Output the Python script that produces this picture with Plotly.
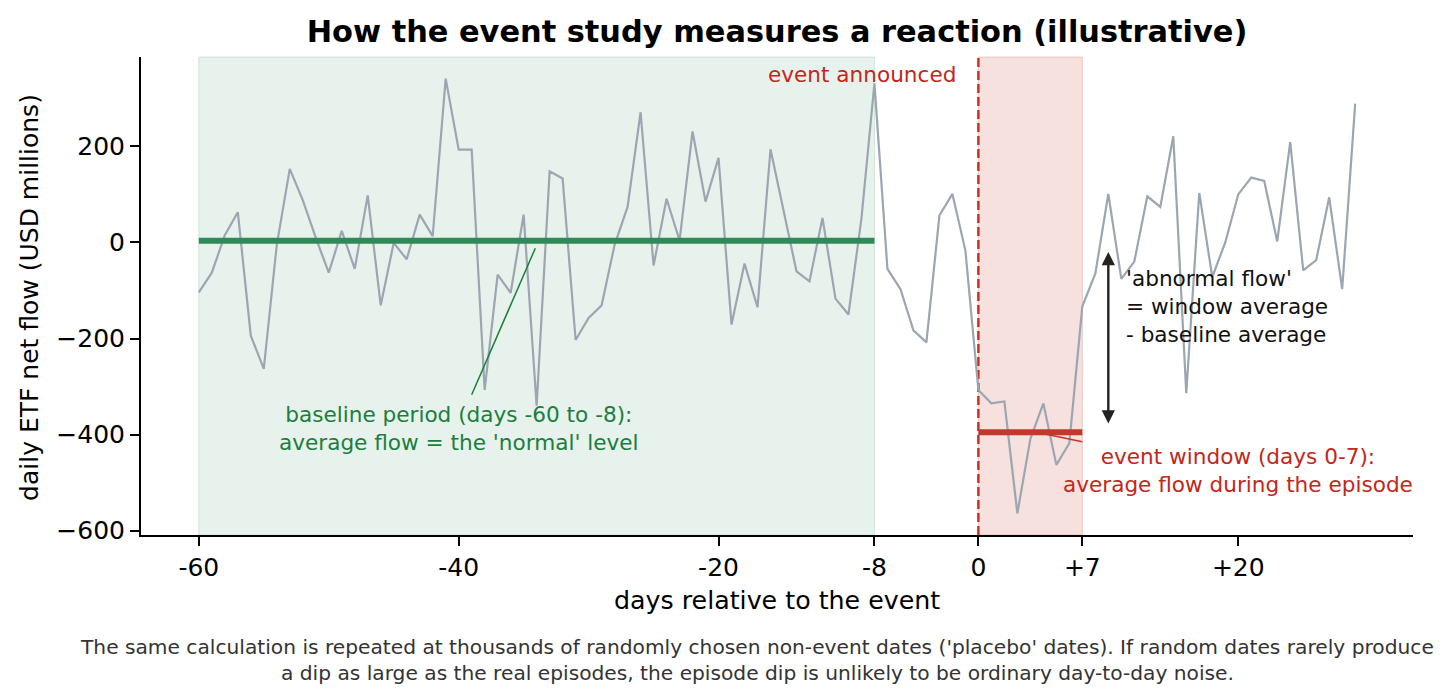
import plotly.graph_objects as go

# illustrative daily flows (USD millions)
days = list(range(-60, 30))
flows = [
    -104, -63, 15, 63, -194, -263, -5, 153, 88, 10,
    -63, 24, -55, 98, -131, -1, -35, 58, 13, 341,
    193, 193, -307, -67, -105, 58, -340, 148, 133, -203,
    -157, -131, -5, 74, 271, -48, 91, 4, 231, 85,
    176, -171, -44, -135, 194, 65, -60, -81, 51, -117,
    -150, 50, 331, -55, -97, -183, -208, 56, 101, -17,
    -307, -335, -331, -564, -409, -335, -463, -418, -133, -65,
    101, -76, -40, 96, 74, 221, -314, 103, -72, 0,
    100, 135, 128, 2, 209, -58, -37, 94, -97, 289,
]

baseline = (-60, -8)
window = (0, 7)          # days averaged; the shaded span runs to the end of day 7
tick_vals = [-60, -40, -20, -8, 0, 8, 20]
tick_text = ["-60", "-40", "-20", "-8", "0", "+7", "+20"]
y_ticks = [-600, -400, -200, 0, 200]
y_text = ["\u2212600", "\u2212400", "\u2212200", "0", "200"]
footnote = [
    "The same calculation is repeated at thousands of randomly chosen non-event dates "
    "('placebo' dates). If random dates rarely produce",
    "a dip as large as the real episodes, the episode dip is unlikely to be ordinary "
    "day-to-day noise.",
]


def period_mean(lo, hi):
    vals = [v for d, v in zip(days, flows) if lo <= d <= hi]
    return sum(vals) / len(vals)


base_avg = period_mean(*baseline)
win_avg = period_mean(*window)
win_end = window[1] + 1

FONT = "DejaVu Sans"
GREEN = "#2e8b57"
GREEN_TXT = "#1a7f3c"
RED = "#c0392b"
RED_TXT = "#c4261a"

fig = go.Figure()
fig.add_trace(go.Scatter(x=days, y=flows, mode="lines",
                         line=dict(color="#9ba6b1", width=2.2), hoverinfo="skip"))
fig.add_trace(go.Scatter(x=list(baseline), y=[base_avg, base_avg], mode="lines",
                         line=dict(color=GREEN, width=6)))
fig.add_trace(go.Scatter(x=[window[0], win_end], y=[win_avg, win_avg], mode="lines",
                         line=dict(color=RED, width=6)))

shapes = [
    dict(type="rect", xref="x", yref="paper", x0=baseline[0], x1=baseline[1], y0=0, y1=1,
         fillcolor="rgba(46,139,87,0.11)", line=dict(color="rgba(46,139,87,0.18)", width=1),
         layer="below"),
    dict(type="rect", xref="x", yref="paper", x0=window[0], x1=win_end, y0=0, y1=1,
         fillcolor="rgba(192,57,43,0.15)", line=dict(color="rgba(192,57,43,0.22)", width=1),
         layer="below"),
    dict(type="line", xref="x", yref="paper", x0=0, x1=0, y0=0, y1=1,
         line=dict(color="#c62d20", width=2.4, dash="9px,4px"), layer="below"),
    # connectors from the labels to the average lines
    dict(type="line", xref="x", yref="y", x0=-39.0, y0=-317, x1=-34.1, y1=-12,
         line=dict(color=GREEN_TXT, width=1.5)),
    dict(type="line", xref="x", yref="y", x0=8.0, y0=-415, x1=5.2, y1=win_avg - 4,
         line=dict(color=RED, width=1.5)),
]

ann = [
    dict(x=-1.6, y=350, xref="x", yref="y", text="event announced", showarrow=False,
         xanchor="right", yanchor="middle", font=dict(size=21.6, color=RED_TXT)),
    dict(x=-40, y=-387, xref="x", yref="y",
         text="baseline period (days -60 to -8):<br>average flow = the 'normal' level",
         showarrow=False, xanchor="center", yanchor="middle", align="center",
         font=dict(size=21.6, color=GREEN_TXT)),
    dict(x=20, y=-475, xref="x", yref="y",
         text="event window (days 0-7):<br>average flow during the episode",
         showarrow=False, xanchor="center", yanchor="middle", align="center",
         font=dict(size=21.6, color=RED_TXT)),
    dict(x=11.2, y=-133, xref="x", yref="y",
         text="'abnormal flow'<br>= window average<br>- baseline average",
         showarrow=False, xanchor="left", yanchor="middle", align="left",
         font=dict(size=21.6, color="#111111")),
    dict(x=10, y=-20, ax=10, ay=-380, xref="x", yref="y", axref="x", ayref="y",
         text="", showarrow=True, arrowside="end+start", arrowhead=2, arrowsize=1.1,
         arrowwidth=2.4, arrowcolor="#222222"),
    # axis titles and footnote
    dict(x=0.5, y=-0.136, xref="paper", yref="paper", text="days relative to the event",
         showarrow=False, xanchor="center", yanchor="middle", font=dict(size=25.3, color="black")),
    dict(x=-0.0873, y=0.498, xref="paper", yref="paper", text="daily ETF net flow (USD millions)",
         showarrow=False, textangle=-90, xanchor="center", yanchor="middle",
         font=dict(size=25.0, color="black")),
    dict(x=0.4843, y=-0.2605, xref="paper", yref="paper", text="<br>".join(footnote),
         showarrow=False, xanchor="center", yanchor="middle", align="center",
         font=dict(size=20.2, color="#333333")),
]

axis_common = dict(showline=True, linecolor="black", linewidth=2, ticks="outside",
                   ticklen=9, tickwidth=2, tickcolor="black", showgrid=False,
                   zeroline=False, tickfont=dict(size=25, color="black", family=FONT))

# page has an 8px body margin, so the figure is 8px smaller each way
fig.update_layout(
    width=1448, height=691,
    margin=dict(l=133, r=43, t=49, b=164),
    paper_bgcolor="white", plot_bgcolor="white",
    font=dict(family=FONT),
    showlegend=False,
    title=dict(text="<b>How the event study measures a reaction (illustrative)</b>",
               x=0.5, xref="paper", xanchor="center", y=1 - 23 / 691, yanchor="middle",
               font=dict(size=30.4, color="black", family=FONT)),
    xaxis=dict(range=[-64.45, 33.45], tickvals=tick_vals, ticktext=tick_text, **axis_common),
    yaxis=dict(range=[-609, 386], tickvals=y_ticks, ticktext=y_text, **axis_common),
    shapes=shapes,
    annotations=ann,
)

fig.write_html("out.html")
